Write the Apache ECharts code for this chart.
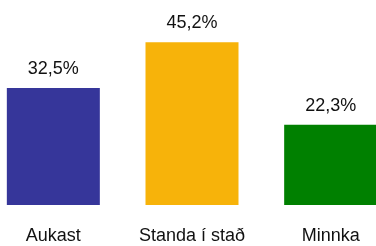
<!DOCTYPE html>
<html>
<head>
<meta charset="utf-8">
<script src="https://cdn.jsdelivr.net/npm/echarts@6/dist/echarts.min.js"></script>
<style>
  html, body { margin: 0; padding: 0; background: #fff; }
  #main { width: 376px; height: 246px; }
</style>
</head>
<body>
<div id="main"></div>
<script>
  // flokkar og gildi (%)
  var categories = ['Aukast', 'Standa í stað', 'Minnka'];
  var values = [32.5, 45.2, 22.3];
  var colors = ['#36369a', '#f7b30a', '#008000'];

  var myChart = echarts.init(document.getElementById('main'));
  var option = {
    animation: false,
    grid: { left: -16, right: -24, top: 25, bottom: 41, outerBoundsMode: 'none', containLabel: false },
    xAxis: {
      type: 'category',
      data: categories,
      axisLine: { show: false },
      axisTick: { show: false },
      axisLabel: {
        interval: 0,
        margin: 22,
        color: '#111',
        fontSize: 18,
        fontFamily: 'Liberation Sans'
      }
    },
    yAxis: {
      type: 'value',
      min: 0,
      max: 50,
      show: false
    },
    series: [{
      type: 'bar',
      barWidth: 93,
      data: values.map(function (v, i) {
        return { value: v, itemStyle: { color: colors[i] } };
      }),
      label: {
        show: true,
        position: 'top',
        distance: 10,
        color: '#111',
        fontSize: 18,
        fontFamily: 'Liberation Sans',
        formatter: function (p) {
          return p.value.toFixed(1).replace('.', ',') + '%';
        }
      }
    }]
  };
  myChart.setOption(option);
</script>
</body>
</html>
